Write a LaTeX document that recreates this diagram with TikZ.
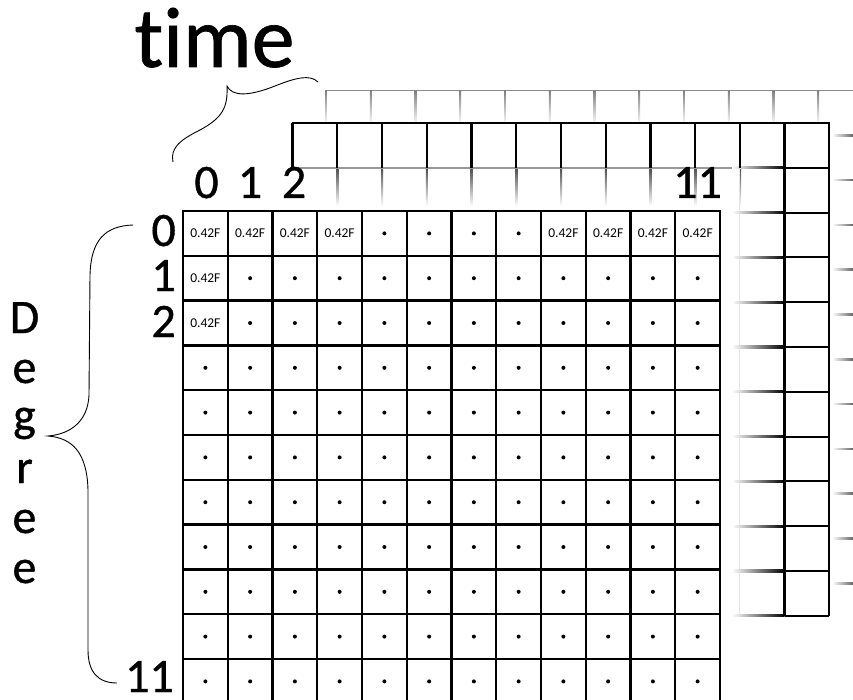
\documentclass[tikz,border=0pt]{standalone}
\usepackage{fontspec}
\setmainfont[Ligatures=NoCommon]{Carlito}
\newfontfamily\heavylbl[Ligatures=NoCommon,FakeBold=0.8]{Carlito}
\begin{document}
\begin{tikzpicture}[x=1pt,y=-1pt,
  cellbox/.style={draw=black,fill=white,line width=2.4pt,minimum width=44.75pt,minimum height=44.8pt,inner sep=0pt,outer sep=0pt},
  val/.style={inner sep=0pt,font=\fontsize{13.5}{15}\selectfont},
  num/.style={inner sep=0pt,font=\heavylbl\fontsize{48}{56}\selectfont},
  deg/.style={inner sep=0pt,font=\heavylbl\fontsize{48}{56}\selectfont},
  gtwo/.style={line width=2.1pt,black},
  gthree/.style={line width=1.5pt,black!45},
  brace/.style={line width=0.9pt,black}]
\useasboundingbox (0,0) rectangle (853,700);
\clip (0,0) rectangle (853,700);
% ---- third (back) layer ----
\draw[gthree] (326,90.5) -- (853,90.5);
\foreach \k in {0,...,11}{
  \shade[top color=black!50,middle color=black!35,bottom color=white]
    ({326+\k*44.75-0.8},90.5) rectangle ({326+\k*44.75+0.8},125);
}
\foreach \k in {1,...,11}{
  \shade[left color=white,right color=black!60]
    (832,{90.5+\k*44.8-0.8}) rectangle (853,{90.5+\k*44.8+0.8});
}
% ---- second (middle) layer ----
\foreach \k in {1,...,10}{
  \shade[top color=black!70,bottom color=white]
    ({292.5+\k*44.75-1},167.8) rectangle ({292.5+\k*44.75+1},206);
}
\draw[line width=1.5pt,black!10] (739.5,167.8) -- (739.5,615);
\draw[line width=2pt,black!40] (292.5,167.8) -- (740,167.8);
\foreach \k in {1,...,11}{
  \shade[left color=white,right color=black]
    (732,{123+\k*44.8-1.05}) rectangle (784.5,{123+\k*44.8+1.05});
  \draw[gtwo] (784.5,{123+\k*44.8}) -- (829,{123+\k*44.8});
}
\draw[gtwo] (291.5,123) -- (830,123);
\foreach \k in {0,...,11}{
  \draw[gtwo] ({292.5+\k*44.75},123) -- ++(0,44.8);
}
\draw[gtwo] (784.5,123) -- (784.5,615.8);
\draw[gtwo] (829,122) -- (829,615.8);
% ---- front layer ----
\foreach \r in {0,...,10}{
  \foreach \c in {0,...,11}{
    \node[cellbox] (cell-\r-\c) at ({183+(\c+0.5)*44.75},{211+(\r+0.5)*44.8}) {};
  }
}
\foreach \c in {0,1,2,3,8,9,10,11}{
  \node[val] (v-0-\c) at (cell-0-\c) {0.42F};
}
\foreach \c in {4,...,7}{ \fill (cell-0-\c.center) circle (2pt); }
\foreach \r in {1,2}{
  \node[val] (v-\r-0) at (cell-\r-0) {0.42F};
  \foreach \c in {1,...,11}{ \fill (cell-\r-\c.center) circle (2pt); }
}
\foreach \r in {3,...,10}{
  \foreach \c in {0,...,11}{ \fill (cell-\r-\c.center) circle (2pt); }
}
% ---- labels ----
\node[inner sep=0pt,font=\heavylbl\fontsize{86}{100}\selectfont,anchor=base] (time) at (214.5,67) {time};
\node[num,anchor=base] (ct0) at (206.5,198) {0};
\node[num,anchor=base] (ct1) at (250,198) {1};
\node[num,anchor=base] (ct2) at (294,198) {2};
\node[num,anchor=base] (ct11) at (697.6,198) {11};
\node[num,anchor=base east] (rl0) at (176,246) {0};
\node[num,anchor=base east] (rl1) at (176,291) {1};
\node[num,anchor=base east] (rl2) at (176,337) {2};
\node[num,anchor=base east] (rl11) at (174,692) {11};
\node[deg,anchor=base] (dD) at (24.5,333) {D};
\node[deg,anchor=base] (de1) at (24.5,383) {e};
\node[deg,anchor=base] (dg) at (24.5,431) {g};
\node[deg,anchor=base] (dr) at (24.5,483) {r};
\node[deg,anchor=base] (de2) at (24.5,533) {e};
\node[deg,anchor=base] (de3) at (24.5,583) {e};
% ---- braces ----
\draw[brace] (133,225) .. controls (105,226) and (91,240) .. (90,275) -- (89,395)
  .. controls (88,420) and (72,434) .. (48,436)
  .. controls (72,438) and (87,452) .. (88,490) -- (88,650)
  .. controls (88,672) and (98,683) .. (117,683);
\draw[brace] (173,162) .. controls (170,148) and (180,140) .. (200,130)
  .. controls (222,118) and (228,108) .. (227,86)
  .. controls (232,97) and (250,96) .. (275,86)
  .. controls (295,78) and (310,74) .. (318,82);
\end{tikzpicture}
\end{document}
